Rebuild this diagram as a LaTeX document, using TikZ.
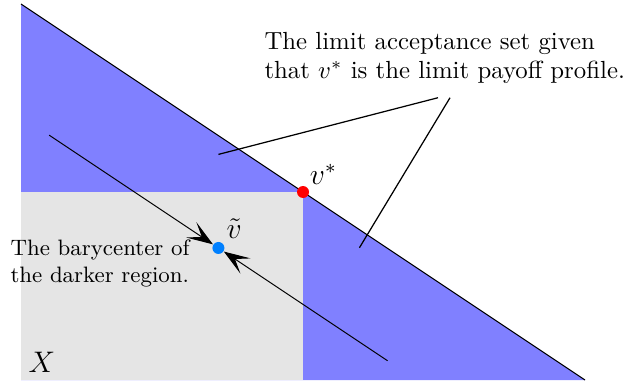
\documentclass[tikz,border=0pt]{standalone}
\usetikzlibrary{arrows.meta}
\definecolor{regionblue}{RGB}{128,128,255}
\definecolor{regiongray}{RGB}{229,229,229}
\definecolor{dotblue}{RGB}{0,128,255}
\tikzset{
  dotpt/.style={circle, inner sep=0pt, minimum size=0.17cm},
  flowarrow/.style={-{Stealth[length=3.7mm,width=2.6mm,inset=1.8mm]}},
  pointer/.style={line width=0.5pt},
  annot/.style={align=left, inner sep=0pt, anchor=north west},
  ptlabel/.style={anchor=base west, inner sep=0pt, font=\large},
}
\begin{document}
\begin{tikzpicture}
\useasboundingbox (-0.298,-0.043) rectangle (8.553,5.390);
% regions
\fill[regionblue] (0,0) -- (0,16/3) -- (8,0) -- cycle;
\fill[regiongray] (0,0) rectangle (4,8/3);
\coordinate (top) at (0,16/3);
\coordinate (right) at (8,0);
\draw (top) -- (right);
% annotation
\node[annot] (acc) at (3.447,4.945) {The limit acceptance set given\\that $v^*$ is the limit payoff profile.};
\coordinate (p1a) at (5.915,4.004);
\coordinate (p1b) at (2.80,3.20);
\coordinate (p2a) at (6.085,4.004);
\coordinate (p2b) at (4.80,1.876);
\draw[pointer] (p1a) -- (p1b);
\draw[pointer] (p2a) -- (p2b);
% dots
\node[dotpt, fill=red] (vs) at (4,8/3) {};
\node[dotpt, fill=dotblue] (vt) at (2.8,1.873) {};
\coordinate (a1) at (0.4,3.473);
\coordinate (a2) at (5.2,0.273);
\draw[flowarrow] (a1) -- (vt);
\draw[flowarrow] (a2) -- (vt);
% labels
\node[ptlabel] (vslab) at (4.09,2.77) {$v^*$};
\node[ptlabel] (vtlab) at (2.91,2.01) {$\tilde{v}$};
\node[annot, font=\small] (bary) at (-0.156,1.993) {The barycenter of\\the darker region.};
\node[ptlabel] (X) at (0.10,0.10) {$X$};
\end{tikzpicture}
\end{document}
